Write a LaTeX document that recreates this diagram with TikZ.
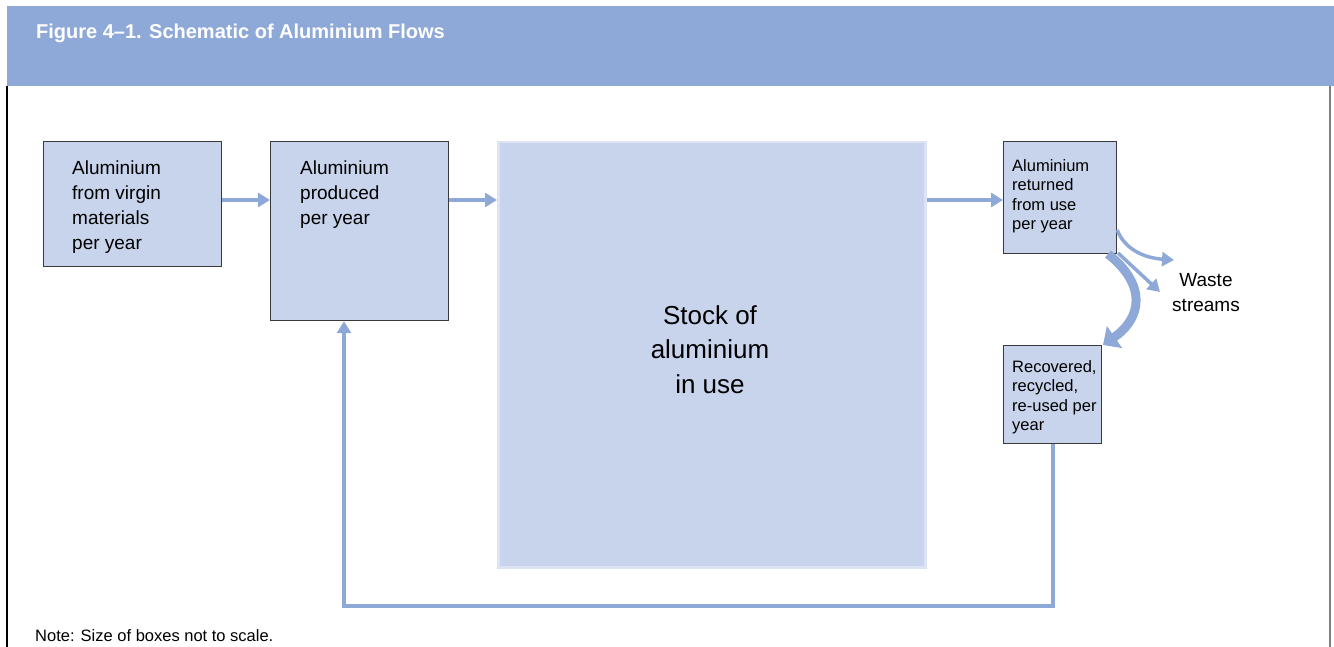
\documentclass[tikz,border=0pt]{standalone}
\usepackage{fontspec}
\setmainfont{Liberation Sans}
\usetikzlibrary{arrows.meta}
\definecolor{band}{HTML}{8EA8D7}
\definecolor{boxfill}{HTML}{C8D3EC}
\definecolor{flow}{HTML}{8EA8D7}
\definecolor{boxline}{HTML}{3A3A3A}
\definecolor{stockline}{HTML}{DCE3F2}
\tikzset{
  box/.style={draw=boxline, line width=1.2pt, fill=boxfill, anchor=north west, inner sep=0pt},
  bigtxt/.style={font=\fontsize{19}{25}\selectfont, align=left, anchor=north west, inner sep=0pt},
  smalltxt/.style={font=\fontsize{16.5}{19.5}\selectfont, align=left, anchor=north west, inner sep=0pt},
  flowarrow/.style={draw=flow, line width=4pt, -{Triangle[length=12pt,width=14pt]}},
}
\begin{document}
\begin{tikzpicture}[x=1pt,y=-1pt]
\useasboundingbox (0,0) rectangle (1334,647);
% header
\fill[band] (7,6) rectangle (1334,86);
\node[anchor=base west, inner sep=0pt, text=white, font=\fontsize{20}{22}\selectfont\bfseries] (title) at (36,39) {Figure 4–1. Schematic of Aluminium Flows};
\draw[black, line width=1.2pt] (7,86) -- (7,647);
\draw[gray, line width=1.2pt] (1330,86) -- (1330,647);

% boxes
\node[box, minimum width=178, minimum height=125] (b1) at (43,141) {};
\node[bigtxt] (t1) at (72,161) {Aluminium\\from virgin\\materials\\per year};
\node[box, minimum width=178, minimum height=179] (b2) at (270,141) {};
\node[bigtxt] (t2) at (300,161) {Aluminium\\produced\\per year};
\node[draw=stockline, line width=2.5pt, fill=boxfill, anchor=north west, inner sep=0pt, minimum width=427, minimum height=425] (stock) at (497,141) {};
\node[font=\fontsize{26}{34.5}\selectfont, align=center, inner sep=0pt, anchor=north] (st) at (710,305) {Stock of\\aluminium\\in use};
\node[box, minimum width=113, minimum height=112] (b4) at (1003,141) {};
\node[smalltxt] (t4) at (1012,159) {Aluminium\\returned\\from use\\per year};
\node[box, minimum width=98, minimum height=98] (b5) at (1003,345) {};
\node[smalltxt] (t5) at (1012,360) {Recovered,\\recycled,\\re-used per\\year};
\node[font=\fontsize{19}{25}\selectfont, align=center, inner sep=0pt, anchor=north] (waste) at (1206,273) {Waste\\streams};

% flows
\draw[flowarrow] (b1.east |- 0,200) -- (b2.west |- 0,200);
\draw[flowarrow] (b2.east |- 0,200) -- (stock.west |- 0,200);
\draw[flowarrow] (stock.east |- 0,200) -- (b4.west |- 0,200);
\coordinate (w1) at (1174,260);
\coordinate (w2) at (1160,292);
\draw[draw=flow, line width=3.5pt, -{Triangle[length=12pt,width=14pt]}] (b4.east |- 0,230) .. controls (1125,250) and (1145,258) .. (w1);
\draw[draw=flow, line width=3.5pt, -{Triangle[length=12pt,width=14pt]}] (1118,253) -- (w2);
\coordinate (r1) at (1103,345);
\draw[draw=flow, line width=9pt, -{Triangle[length=14pt,width=26pt]}] (1108,254) .. controls (1147,285) and (1142,318) .. (r1);
\coordinate (c1) at (1053,606);
\coordinate (c2) at (344,606);
\draw[flowarrow] (b5.south -| 1053,0) -- (c1) -- (c2) -- (b2.south -| 344,0);

% note
\node[anchor=base west, inner sep=0pt, font=\fontsize{16.5}{20}\selectfont] (note) at (35,641) {Note: Size of boxes not to scale.};
\end{tikzpicture}
\end{document}
